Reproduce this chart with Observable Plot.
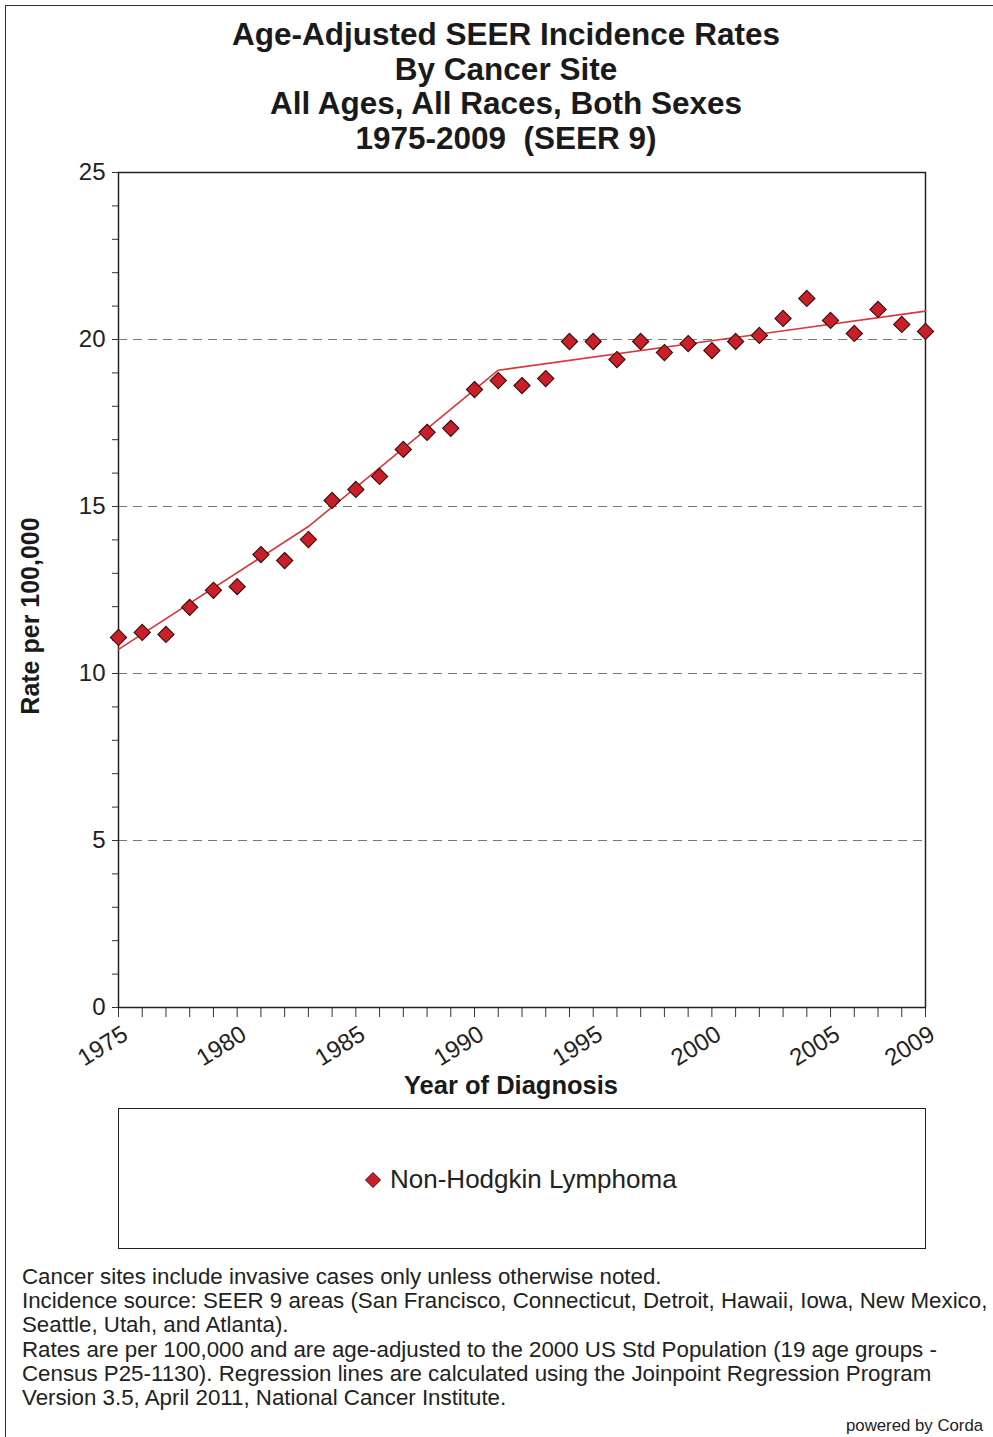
<!DOCTYPE html>
<html><head><meta charset="utf-8">
<script src="https://cdn.jsdelivr.net/npm/d3@7"></script>
<script src="https://cdn.jsdelivr.net/npm/@observablehq/plot@0.6"></script>
<style>
body{margin:0;background:#fff;font-family:"Liberation Sans",Arial,sans-serif;color:#222;}
#page{position:relative;width:993px;height:1437px;overflow:hidden;background:#fff;}
#frame{position:absolute;left:5px;top:5px;width:1010px;height:1450px;border:1.5px solid #333;box-sizing:border-box;}
#title{position:absolute;left:0;top:17px;width:1012px;text-align:center;font-weight:bold;font-size:31.5px;line-height:34.7px;color:#1a1a1a;}
#chart{position:absolute;left:0;top:160px;}
#legend{position:absolute;left:118px;top:1108px;width:808px;height:141px;border:1.5px solid #222;box-sizing:border-box;}
#legend .item{position:absolute;left:245px;top:56px;font-size:26px;line-height:28px;color:#222;white-space:nowrap;}
#legend svg{vertical-align:-1px;margin-right:8px;}
#notes{position:absolute;left:22px;top:1265px;font-size:22.3px;line-height:24.2px;color:#222;white-space:nowrap;}
#corda{position:absolute;left:846px;top:1416px;font-size:16.8px;color:#222;white-space:nowrap;}
</style></head>
<body>
<div id="page">
  <div id="frame"></div>
  <div id="title">Age-Adjusted SEER Incidence Rates<br>By Cancer Site<br>All Ages, All Races, Both Sexes<br>1975-2009&nbsp; (SEER 9)</div>
  <div id="chart"></div>
  <div id="legend"><div class="item"><svg width="18" height="18" viewBox="-9 -9 18 18"><path d="M0,-7.5L7.5,0L0,7.5L-7.5,0Z" fill="#c8202a" stroke="#3b0a0a" stroke-width="1"/></svg>Non-Hodgkin Lymphoma</div></div>
  <div id="notes">Cancer sites include invasive cases only unless otherwise noted.<br>Incidence source: SEER 9 areas (San Francisco, Connecticut, Detroit, Hawaii, Iowa, New Mexico,<br>Seattle, Utah, and Atlanta).<br>Rates are per 100,000 and are age-adjusted to the 2000 US Std Population (19 age groups -<br>Census P25-1130). Regression lines are calculated using the Joinpoint Regression Program<br>Version 3.5, April 2011, National Cancer Institute.</div>
  <div id="corda">powered by Corda</div>
</div>
<script>
// Observed rates
const years = d3.range(1975, 2010);
const rates = [11.08, 11.23, 11.17, 11.98, 12.49, 12.60, 13.56, 13.38, 14.01, 15.18,
               15.51, 15.90, 16.71, 17.22, 17.34, 18.50, 18.77, 18.62, 18.83, 19.94,
               19.94, 19.40, 19.94, 19.61, 19.88, 19.67, 19.94, 20.12, 20.63, 21.23,
               20.57, 20.18, 20.90, 20.45, 20.24];
// Joinpoint regression line
const trendYears = [1975, 1983, 1991, 2009];
const trendRates = [10.72, 14.40, 19.08, 20.85];
// Ticks
const yLabelTicks = [0, 5, 10, 15, 20, 25];
const gridTicks = [5, 10, 15, 20];
const xLabelTicks = [1975, 1980, 1985, 1990, 1995, 2000, 2005, 2009];
const seriesName = "Non-Hodgkin Lymphoma";

const data = years.map((x, i) => ({x, y: rates[i]}));
const trend = trendYears.map((x, i) => ({x, y: trendRates[i]}));

const font = '"Liberation Sans", Arial, sans-serif';
const chart = Plot.plot({
  width: 993,
  height: 947,
  marginLeft: 118,
  marginRight: 68,
  marginTop: 12,
  marginBottom: 100,
  style: {fontFamily: font, color: "#222", background: "transparent", overflow: "visible"},
  x: {domain: [1975, 2009]},
  y: {domain: [0, 25]},
  marks: [
    Plot.ruleY(gridTicks, {stroke: "#777", strokeWidth: 1.2, strokeDasharray: "9,6"}),
    Plot.axisY(d3.range(0, 26), {tickSize: 6, stroke: "#333", text: null, label: null}),
    Plot.axisY(yLabelTicks, {tickSize: 0, tickPadding: 13, fontSize: 24, fill: "#222", label: null}),
    Plot.axisX(years, {tickSize: 10, stroke: "#333", text: null, label: null}),
    Plot.axisX(xLabelTicks, {tickSize: 0, tickPadding: 0, fontSize: 24, fill: "#222", rotate: -32,
      textAnchor: "end", lineAnchor: "bottom", dx: 11, dy: 31, tickFormat: d => String(d), label: null}),
    Plot.frame({stroke: "#222", strokeWidth: 1.5}),
    Plot.line(trend, {x: "x", y: "y", stroke: "#d9363e", strokeWidth: 1.6}),
    Plot.dot(data, {x: "x", y: "y", symbol: "diamond2", r: 7.3, fill: "#c8202a", stroke: "#3b0a0a", strokeWidth: 1.1})
  ]
});
document.getElementById("chart").appendChild(chart);
const svg = d3.select(chart);
svg.append("text").attr("x", 511).attr("y", 934).attr("text-anchor", "middle")
  .attr("font-size", 25.5).attr("font-weight", "bold").attr("fill", "#1a1a1a").text("Year of Diagnosis");
svg.append("text").attr("transform", "translate(39,456) rotate(-90)").attr("text-anchor", "middle")
  .attr("font-size", 25).attr("font-weight", "bold").attr("fill", "#1a1a1a").text("Rate per 100,000");
</script>
</body></html>
